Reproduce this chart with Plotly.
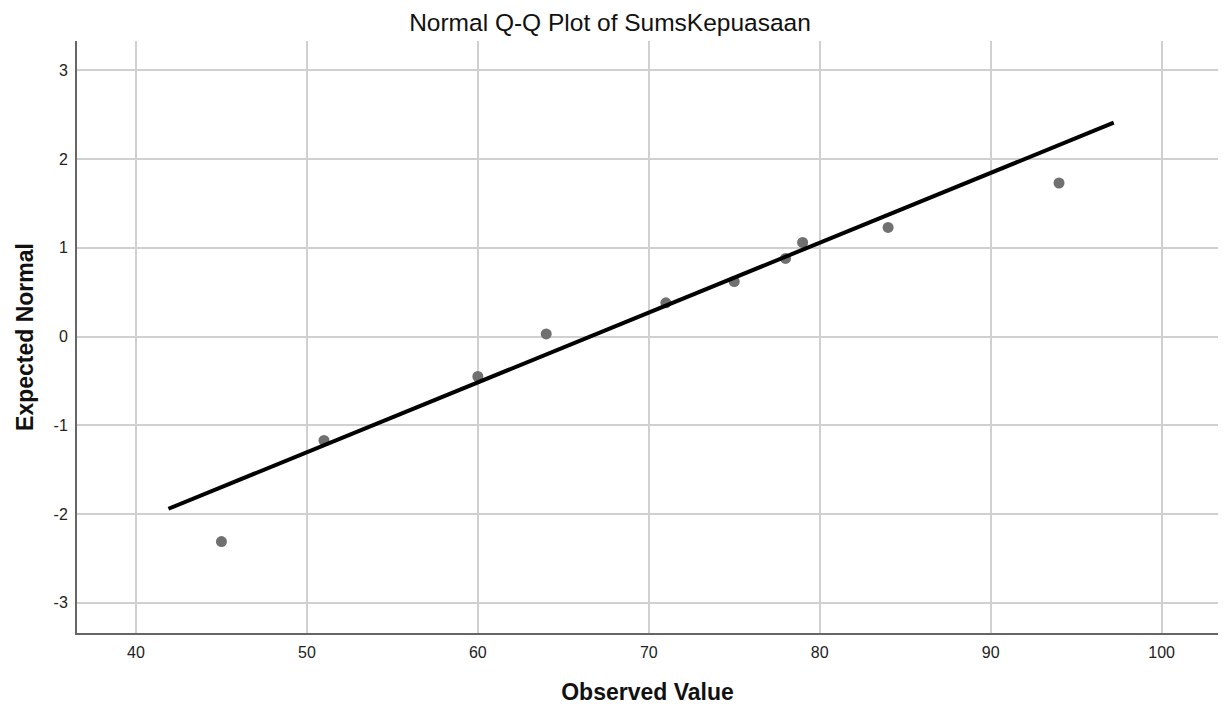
import plotly.graph_objects as go

observed = [45, 51, 60, 64, 71, 75, 78, 79, 84, 94]
expected_normal = [-2.31, -1.17, -0.45, 0.03, 0.38, 0.62, 0.88, 1.06, 1.23, 1.73]
line_x = [41.9, 97.2]
line_y = [-1.94, 2.41]
x_ticks = [40, 50, 60, 70, 80, 90, 100]
y_ticks = [-3, -2, -1, 0, 1, 2, 3]
y_tick_labels = ["-3", "-2", "-1", "0", "1", "2", "3"]

FONT = "Liberation Sans, Arial, sans-serif"
# page body has an 8px default margin, so the figure sits at (8, 8)
OFF = 8

fig = go.Figure()
fig.add_trace(go.Scatter(x=observed, y=expected_normal, mode="markers",
                         marker=dict(color="#707070", size=11), showlegend=False))
fig.add_trace(go.Scatter(x=line_x, y=line_y, mode="lines",
                         line=dict(color="#000000", width=4), showlegend=False))

W, H = 1232, 711
fig.update_layout(
    width=W, height=H,
    margin=dict(l=77 - OFF, r=W - (1218 - OFF), t=41 - OFF, b=H - (633 - OFF), autoexpand=False),
    paper_bgcolor="white", plot_bgcolor="white",
    font=dict(family=FONT, color="#000"),
    title=dict(text="Normal Q-Q Plot of SumsKepuasaan", x=(610 - OFF) / W, xref="container",
               xanchor="center", y=1 - (22 - OFF) / H, yref="container", yanchor="middle",
               font=dict(size=24.5, color="#111", family=FONT)),
)
fig.update_xaxes(range=[36.55, 103.3], tickvals=x_ticks, showgrid=True,
                 gridcolor="#d0d0d0", gridwidth=1.5, zeroline=False,
                 showline=True, linecolor="#666", linewidth=2,
                 ticks="", ticklabelstandoff=4, automargin=False,
                 tickfont=dict(size=16, color="#222"),
                 title=dict(text="<b>Observed Value</b>", font=dict(size=23, color="#111"),
                            standoff=24))
fig.update_yaxes(range=[-3.34, 3.33], tickvals=y_ticks, ticktext=y_tick_labels,
                 showgrid=True,
                 gridcolor="#d0d0d0", gridwidth=1.5, zeroline=False,
                 showline=True, linecolor="#666", linewidth=2,
                 ticks="", ticklabelstandoff=4, automargin=False,
                 tickfont=dict(size=16, color="#222"),
                 title=dict(text="<b>Expected Normal</b>", font=dict(size=23, color="#111"),
                            standoff=14))

fig.write_html("out.html")
